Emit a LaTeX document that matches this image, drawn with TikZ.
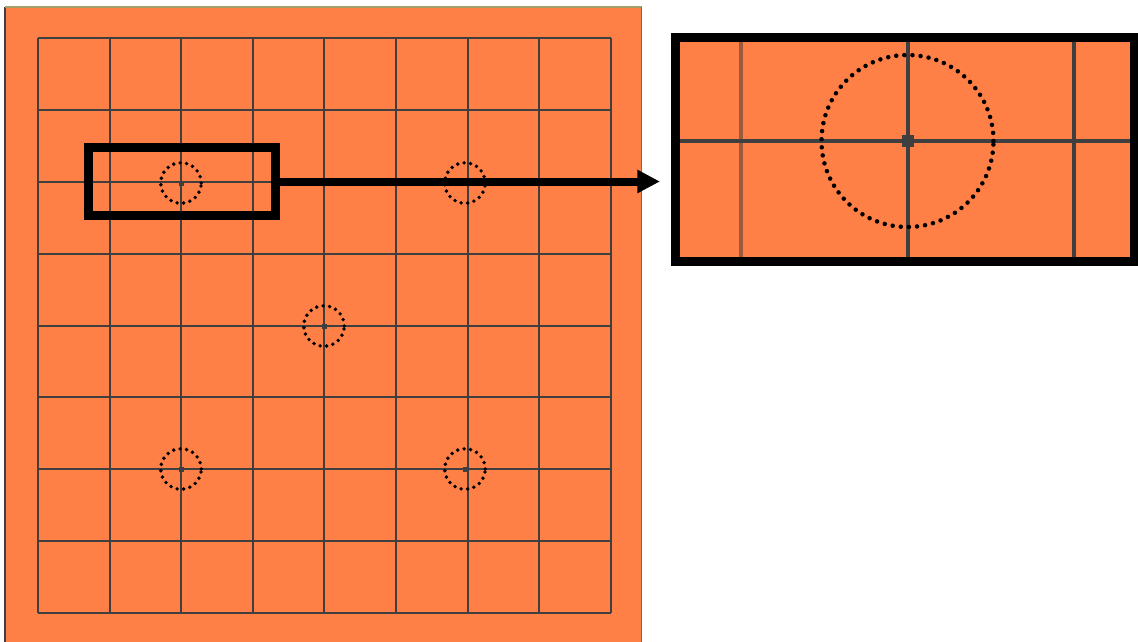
\documentclass[tikz,border=0pt]{standalone}
\usetikzlibrary{arrows.meta}
\definecolor{boardorange}{HTML}{FF8046}
\definecolor{gridgray}{HTML}{3F3F3F}
\definecolor{gridbrown}{HTML}{9A5A3C}
\definecolor{edgeolive}{HTML}{A39F6A}

\begin{document}
\begin{tikzpicture}[x=0.75pt,y=-0.75pt]
        \tikzset{
            boardline/.style={
                draw=gridgray,
                line width=1.5pt
            },
            panelline/.style={
                draw=gridgray,
                line width=3pt
            },
            starpoint/.style={
                fill=gridgray,
                rectangle,
                inner sep=0pt,
                minimum size=3.75pt
            },
            starring/.style={
                draw=black,
                line width=2.9pt,
                line cap=round,
                dash pattern=on 0pt off 4.9pt
            },
            bigring/.style={
                draw=black,
                line width=3.4pt,
                line cap=round,
                dash pattern=on 0pt off 6.1pt
            },
            framebox/.style={
                draw=black,
                rectangle,
                inner sep=0pt,
                line width=6.75pt
            },
            zoomarrow/.style={
                -{Triangle[length=17pt,width=16.5pt]},
                draw=black,
                line width=6pt,
                shorten >=8.25pt
            }
        }
        \useasboundingbox (0,0) rectangle (1138,642);

        \fill[boardorange] (5,7) rectangle (642,642);
        \draw[gridgray, line width=1pt] (5,7) -- (5,642);
        \draw[edgeolive, line width=1.2pt] (5,7) -- (642,7);
        \draw[gridbrown, line width=0.8pt] (641.5,7) -- (641.5,642);

        \foreach \i in {0,...,8} {
            \draw[boardline] ({38+71.6*\i},38) -- ({38+71.6*\i},613);
            \draw[boardline] (38,{38+71.875*\i}) -- (611,{38+71.875*\i});
        }

        \node[starpoint] (star1) at (181,183) {};
        \node[starpoint] (star2) at (465,183) {};
        \node[starpoint] (star3) at (324,326) {};
        \node[starpoint] (star4) at (181,469) {};
        \node[starpoint] (star5) at (465,469) {};
        \foreach \s in {star1,star2,star3,star4,star5}
            \draw[starring] (\s) circle[radius=15.2pt];

        \node[framebox, minimum width=139.9pt, minimum height=51pt]
            (hilite) at (181.75,181.5) {};

        \node[framebox, fill=boardorange, minimum width=343.9pt, minimum height=168pt]
            (panel) at (904.75,149.5) {};
        \draw[panelline, draw=gridbrown] (741,42) -- (741,257);
        \draw[panelline] (907.5,42) -- (907.5,257);
        \draw[panelline] (1074,42) -- (1074,257);
        \draw[panelline] (680,141) -- (1130,141);
        \node[starpoint, minimum size=9pt] (focus) at (907.5,141) {};
        \draw[bigring] (focus) circle[radius=64.5pt];

        \draw[zoomarrow] (hilite.east) -- (hilite.east -| panel.west);
    \end{tikzpicture}
\end{document}
